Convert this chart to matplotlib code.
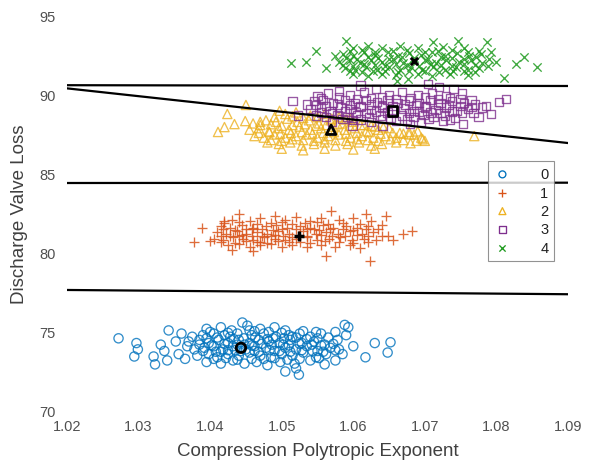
import matplotlib
matplotlib.use("Agg")
import matplotlib.pyplot as plt

plt.rcParams['font.family'] = ['Liberation Sans', 'DejaVu Sans']

# ---- data ----
x0 = [1.0272,1.0297,1.0299,1.0294,1.0321,1.0323,1.0331,1.0342,1.0340,1.0336,1.0352,1.0356,1.0360,1.0365,1.0368,
      1.0415,1.0445,1.0452,1.0470,1.0490,1.0505,1.0430,1.0395,
      1.0375,1.0390,1.0405,1.0420,1.0438,1.0458,1.0475,1.0492,1.0510,1.0525,1.0540,1.0555,1.0575,
      1.0370,1.0385,1.0398,1.0412,1.0425,1.0440,1.0455,1.0468,1.0482,1.0497,1.0512,1.0528,1.0545,1.0560,1.0578,1.0590,
      1.0378,1.0392,1.0405,1.0418,1.0432,1.0450,1.0462,1.0478,1.0490,1.0505,1.0520,1.0535,1.0550,1.0568,1.0580,
      1.0382,1.0398,1.0410,1.0425,1.0440,1.0455,1.0470,1.0485,1.0500,1.0515,1.0530,1.0548,1.0562,
      1.0395,1.0415,1.0432,1.0448,1.0465,1.0480,1.0498,1.0518,1.0540,1.0560,
      1.0505,1.0520,1.0524,1.0593,1.0588,1.0630,1.0652,1.0648,1.0617,1.0600,1.0585,1.0575,
      1.0428,1.0448,1.0462,1.0415,1.0488,1.0502,1.0475,1.0435,1.0515,1.0455,
      1.0395,1.0410,1.0433,1.0447,1.0463,1.0480,1.0503,1.0520,1.0535,1.0550,1.0565,
      1.0385,1.0402,1.0420,1.0438,1.0458,1.0472,1.0486,1.0510,1.0525,1.0542,1.0555,1.0572,
      1.0390,1.0408,1.0425,1.0443,1.0468,1.0483,1.0497,1.0512,1.0528,1.0543,1.0558,1.0575,
      1.0405,1.0422,1.0438,1.0458,1.0490,1.0508,1.0525,1.0552,
      1.0400,1.0425,1.0462,1.0482,1.0500,1.0530,1.0548]
y0 = [74.6,74.3,73.9,73.45,73.45,72.95,74.2,75.1,73.2,73.8,74.4,73.6,74.9,73.3,74.1,
      75.3,75.6,75.4,75.2,75.3,75.1,75.1,75.2,
      74.7,74.8,74.9,74.8,74.9,74.8,74.9,74.7,74.8,74.9,74.7,74.9,75.0,
      74.4,74.5,74.3,74.5,74.3,74.5,74.3,74.5,74.4,74.3,74.5,74.3,74.4,74.2,74.5,74.8,
      73.9,74.0,74.1,73.9,74.1,73.9,74.1,74.0,73.8,74.0,73.9,74.1,73.8,74.0,73.9,
      73.5,73.6,73.4,73.6,73.5,73.7,73.5,73.4,73.6,73.5,73.7,73.4,73.6,
      73.1,73.0,73.2,73.0,73.1,72.9,73.1,73.0,73.2,72.95,
      72.5,72.7,72.3,75.3,75.45,74.3,74.35,73.7,73.4,74.1,73.6,73.2,
      74.7,74.2,73.8,73.75,74.6,74.2,73.3,73.85,74.7,75.1,
      74.6,74.65,74.55,74.6,74.65,74.55,74.6,74.65,74.55,74.6,74.65,
      74.2,74.15,74.25,74.2,74.15,74.25,74.2,74.15,74.25,74.2,74.15,74.25,
      73.8,73.75,73.85,73.8,73.75,73.85,73.8,73.75,73.85,73.8,73.75,73.85,
      73.3,73.35,73.25,73.3,73.35,73.25,73.3,73.35,
      75.0,74.95,75.05,75.0,74.95,75.05,75.0]

x1 = [1.0377,1.0389,1.0400,1.0420,1.0441,1.0490,1.0569,1.0618,1.0646,1.0682,1.0670,1.0623,1.0562,1.0655,1.0640,1.0430,1.0460,
      1.0430,1.0455,1.0470,1.0505,1.0520,1.0540,1.0555,1.0580,1.0600,1.0625,
      1.0415,1.0428,1.0445,1.0460,1.0478,1.0492,1.0508,1.0525,1.0540,1.0558,1.0572,1.0590,1.0605,1.0620,1.0635,
      1.0410,1.0422,1.0438,1.0450,1.0465,1.0480,1.0495,1.0510,1.0530,1.0548,1.0562,1.0578,1.0595,1.0612,1.0628,1.0648,
      1.0405,1.0418,1.0432,1.0446,1.0460,1.0475,1.0490,1.0505,1.0520,1.0536,1.0550,1.0566,1.0582,1.0598,1.0615,1.0632,
      1.0425,1.0440,1.0455,1.0470,1.0485,1.0500,1.0515,1.0535,1.0555,1.0575,1.0595,1.0610,
      1.0450,1.0485,1.0515,1.0500,1.0470,1.0525,1.0545,1.0440,
      1.0420,1.0440,1.0465,1.0485,1.0500,1.0515,1.0532,1.0550,1.0565,1.0585,1.0610,
      1.0418,1.0435,1.0458,1.0472,1.0488,1.0520,1.0535,1.0552,1.0568,1.0585,1.0600,1.0618,
      1.0415,1.0428,1.0445,1.0458,1.0472,1.0490,1.0502,1.0535,1.0555,1.0570,1.0588,1.0605,1.0620,1.0640,
      1.0415,1.0435,1.0450,1.0465,1.0480,1.0495,1.0510,1.0540,1.0560,1.0580,1.0600,1.0620]
y1 = [80.7,81.6,80.75,82.0,82.45,82.35,82.65,82.45,82.35,81.4,81.2,79.5,79.8,80.8,81.8,80.2,80.1,
      82.1,82.0,82.2,82.1,82.3,82.0,82.2,82.1,82.2,82.0,
      81.7,81.6,81.8,81.6,81.7,81.8,81.6,81.7,81.6,81.8,81.6,81.7,81.6,81.7,81.5,
      81.3,81.2,81.4,81.2,81.3,81.2,81.4,81.2,81.4,81.2,81.3,81.2,81.4,81.2,81.3,81.1,
      80.9,80.8,81.0,80.9,80.8,81.0,80.9,80.8,80.9,81.0,80.8,80.9,81.0,80.8,80.9,80.85,
      80.5,80.6,80.4,80.5,80.6,80.4,80.5,80.4,80.5,80.4,80.5,80.3,
      81.5,81.1,81.0,81.5,80.7,80.7,81.5,81.1,
      81.9,81.95,81.85,81.9,81.95,81.85,81.9,81.95,81.85,81.9,81.85,
      81.5,81.45,81.55,81.5,81.45,81.55,81.5,81.45,81.55,81.5,81.45,81.5,
      81.1,81.05,81.15,81.1,81.05,81.15,81.1,81.05,81.15,81.1,81.05,81.15,81.1,81.05,
      80.7,80.65,80.75,80.7,80.65,80.75,80.7,80.65,80.75,80.7,80.65,80.7]

x2 = [1.0424,1.0450,1.0411,1.0449,1.0420,1.0434,1.0470,1.0497,1.0769,
      1.0505,1.0520,1.0540,1.0560,1.0580,1.0595,
      1.0460,1.0478,1.0492,1.0508,1.0522,1.0538,1.0552,1.0568,1.0585,1.0600,1.0615,1.0630,
      1.0455,1.0468,1.0482,1.0496,1.0510,1.0525,1.0540,1.0555,1.0572,1.0588,1.0602,1.0618,1.0635,1.0650,1.0665,
      1.0462,1.0475,1.0490,1.0505,1.0520,1.0535,1.0550,1.0565,1.0580,1.0596,1.0612,1.0628,1.0645,1.0660,1.0678,1.0695,
      1.0480,1.0496,1.0512,1.0528,1.0545,1.0560,1.0575,1.0592,1.0608,1.0625,1.0640,1.0660,1.0680,1.0700,
      1.0500,1.0530,1.0560,1.0600,1.0630,
      1.0678,1.0697,1.0690,
      1.0490,1.0515,1.0530,1.0550,1.0570,1.0590,
      1.0470,1.0485,1.0500,1.0515,1.0532,1.0548,1.0562,1.0578,1.0595,1.0610,1.0625,1.0642,
      1.0468,1.0483,1.0498,1.0513,1.0528,1.0543,1.0558,1.0573,1.0590,1.0605,1.0622,1.0638,1.0655,1.0670,1.0685,
      1.0485,1.0500,1.0515,1.0530,1.0545,1.0560,1.0575,1.0590,1.0605,1.0620,1.0635,1.0652,1.0670,1.0688]
y2 = [88.8,89.37,87.66,88.35,87.97,88.16,88.3,89.0,87.4,
      88.8,88.9,88.7,88.8,88.6,88.5,
      88.2,88.4,88.3,88.5,88.3,88.4,88.2,88.4,88.2,88.3,88.1,88.0,
      87.8,87.9,87.7,87.9,87.8,88.0,87.8,87.9,88.0,87.8,87.9,87.7,87.8,87.9,87.6,
      87.4,87.3,87.5,87.3,87.4,87.5,87.3,87.4,87.5,87.3,87.4,87.3,87.4,87.3,87.5,87.3,
      87.0,86.9,87.0,86.8,86.9,87.0,86.8,86.9,87.0,86.8,86.9,87.0,86.95,87.1,
      86.6,86.5,86.6,86.55,86.6,
      87.66,87.2,87.7,
      88.6,88.65,88.55,88.6,88.5,88.45,
      88.1,88.15,88.05,88.1,88.15,88.05,88.1,88.15,88.05,88.1,88.05,87.95,
      87.6,87.65,87.55,87.6,87.65,87.55,87.6,87.65,87.55,87.6,87.65,87.55,87.6,87.55,87.5,
      87.15,87.1,87.2,87.15,87.1,87.2,87.15,87.1,87.2,87.15,87.1,87.2,87.15,87.1]

x3 = [1.0515,1.0523,1.0535,1.0813,1.0804,1.0792,1.0775,1.0753,1.0580,1.0632,1.0704,1.0740,1.0599,1.0641,1.0679,1.0720,1.0610,
      1.0550,1.0565,1.0595,1.0615,1.0650,1.0668,1.0690,1.0710,1.0730,1.0752,
      1.0545,1.0558,1.0572,1.0588,1.0602,1.0618,1.0633,1.0648,1.0662,1.0678,1.0692,1.0708,1.0722,1.0738,1.0755,1.0770,1.0785,
      1.0540,1.0555,1.0568,1.0582,1.0596,1.0610,1.0625,1.0640,1.0670,1.0685,1.0700,1.0715,1.0730,1.0745,1.0760,
      1.0548,1.0562,1.0578,1.0592,1.0606,1.0622,1.0638,1.0652,1.0668,1.0684,1.0698,1.0712,1.0728,1.0742,
      1.0570,1.0600,1.0625,1.0660,1.0695,1.0725,
      1.0555,1.0580,1.0605,1.0625,1.0640,1.0660,1.0680,1.0700,1.0718,1.0735,1.0750,1.0765,
      1.0548,1.0562,1.0578,1.0595,1.0610,1.0625,1.0640,1.0655,1.0672,1.0688,1.0702,1.0718,1.0734,1.0750,1.0765,1.0780,
      1.0555,1.0570,1.0588,1.0603,1.0618,1.0632,1.0648,1.0678,1.0692,1.0708,1.0722,1.0738,1.0752,1.0768,
      1.0585,1.0610,1.0640,1.0675,1.0705,1.0735]
y3 = [89.6,88.7,89.4,89.75,89.55,88.8,88.6,88.15,90.25,90.4,90.7,90.4,88.05,88.05,88.15,90.5,90.6,
      89.95,90.1,90.0,90.15,90.0,90.2,90.0,90.1,89.95,90.1,
      89.6,89.7,89.5,89.7,89.5,89.7,89.55,89.7,89.5,89.65,89.5,89.7,89.5,89.6,89.5,89.4,89.3,
      89.1,89.2,89.0,89.2,89.1,89.25,89.05,89.2,89.15,89.0,89.2,89.05,89.2,89.0,89.1,
      88.7,88.6,88.75,88.6,88.75,88.6,88.7,88.55,88.7,88.6,88.75,88.6,88.7,88.55,
      88.3,88.4,88.3,88.35,88.3,88.35,
      89.8,89.85,89.75,89.8,89.85,89.75,89.8,89.85,89.75,89.8,89.75,89.7,
      89.35,89.3,89.4,89.35,89.3,89.4,89.35,89.3,89.4,89.35,89.3,89.4,89.35,89.3,89.25,89.2,
      88.9,88.85,88.95,88.9,88.85,88.95,88.9,88.85,88.95,88.9,88.85,88.95,88.9,88.85,
      88.5,88.45,88.5,88.45,88.5,88.45]

x4 = [1.0513,1.0534,1.0548,1.0856,1.0838,1.0827,1.0810,1.0787,1.0793,1.0590,1.0711,1.0746,1.0661,1.0676,1.0562,1.0575,
      1.0600,1.0620,1.0640,1.0665,1.0690,1.0725,1.0755,
      1.0585,1.0600,1.0615,1.0630,1.0648,1.0662,1.0678,1.0695,1.0710,1.0728,1.0745,1.0762,1.0778,
      1.0580,1.0595,1.0610,1.0625,1.0640,1.0655,1.0670,1.0700,1.0715,1.0730,1.0748,1.0765,1.0780,1.0800,
      1.0588,1.0602,1.0618,1.0633,1.0650,1.0665,1.0680,1.0696,1.0712,1.0728,1.0744,1.0760,1.0776,
      1.0600,1.0620,1.0640,1.0660,1.0690,1.0710,1.0735,1.0760,
      1.0595,1.0612,1.0630,1.0655,1.0675,1.0700,1.0718,1.0738,1.0760,1.0775,
      1.0590,1.0605,1.0620,1.0635,1.0650,1.0668,1.0685,1.0705,1.0722,1.0738,1.0755,1.0772,1.0790,
      1.0585,1.0600,1.0615,1.0630,1.0645,1.0660,1.0675,1.0692,1.0708,1.0722,1.0738,1.0755,1.0770,1.0788,
      1.0595,1.0612,1.0628,1.0645,1.0662,1.0678,1.0700,1.0720,1.0740,1.0755,1.0770]
y4 = [92.05,92.1,92.8,91.8,92.4,91.95,91.1,93.35,92.7,93.4,93.35,93.4,90.9,91.0,91.7,92.5,
      93.0,93.1,92.95,93.1,93.0,93.05,92.95,
      92.6,92.5,92.7,92.55,92.7,92.5,92.65,92.55,92.7,92.5,92.65,92.5,92.6,
      92.1,92.2,92.05,92.2,92.1,92.25,92.05,92.2,92.05,92.2,92.1,92.2,92.0,92.1,
      91.7,91.6,91.75,91.6,91.75,91.6,91.75,91.6,91.75,91.6,91.75,91.6,91.7,
      91.3,91.2,91.35,91.25,91.3,91.2,91.3,91.25,
      92.8,92.85,92.75,92.8,92.85,92.75,92.8,92.85,92.75,92.8,
      92.35,92.3,92.4,92.35,92.3,92.4,92.35,92.3,92.4,92.35,92.3,92.4,92.3,
      91.9,91.85,91.95,91.9,91.85,91.95,91.9,91.85,91.95,91.9,91.85,91.95,91.9,91.85,
      91.5,91.45,91.55,91.5,91.45,91.55,91.5,91.45,91.55,91.5,91.45]

cluster_labels = ['0', '1', '2', '3', '4']
centroid_x = [1.0443, 1.0524, 1.0569, 1.0655, 1.0685]
centroid_y = [74.0, 81.1, 87.8, 89.0, 92.15]

boundary_x = [1.02, 1.09]
boundary_1 = [90.62, 90.57]
boundary_2 = [90.42, 86.96]
boundary_3 = [84.43, 84.45]
boundary_4 = [77.66, 77.39]

x_ticks = [1.02, 1.03, 1.04, 1.05, 1.06, 1.07, 1.08, 1.09]
y_ticks = [70, 75, 80, 85, 90, 95]

# ---- styles ----
colors = ['#0072BD', '#D95319', '#EDB120', '#7E2F8E', '#1E9A1E']
markers = ['o', '+', '^', 's', 'x']
sizes = [44, 58, 44, 36, 36]

fig = plt.figure(figsize=(5.92, 4.64), dpi=100)
ax = fig.add_axes([67/592, 1 - 412/464, 501/592, 395/464])

xs = [x0, x1, x2, x3, x4]
ys = [y0, y1, y2, y3, y4]
handles = []
for i in range(5):
    if markers[i] in ('+', 'x'):
        h = ax.scatter(xs[i], ys[i], s=sizes[i], marker=markers[i], c=colors[i],
                       linewidths=0.95, alpha=0.85, label=cluster_labels[i], zorder=2)
    else:
        h = ax.scatter(xs[i], ys[i], s=sizes[i], marker=markers[i], facecolors='none',
                       edgecolors=colors[i], linewidths=0.95, alpha=0.8,
                       label=cluster_labels[i], zorder=2)
    handles.append(h)

for i in range(5):
    if markers[i] == 'x':
        ax.scatter([centroid_x[i]], [centroid_y[i]], s=28, marker='x', c='black',
                   linewidths=2.2, zorder=4)
    elif markers[i] == '+':
        ax.scatter([centroid_x[i]], [centroid_y[i]], s=55, marker='+', c='black',
                   linewidths=2.5, zorder=4)
    else:
        ax.scatter([centroid_x[i]], [centroid_y[i]], s=46, marker=markers[i],
                   facecolors='none', edgecolors='black', linewidths=2.0, zorder=4)

for by in (boundary_1, boundary_2, boundary_3, boundary_4):
    ax.plot(boundary_x, by, color='black', lw=1.6, zorder=3)

ax.set_xlim(1.02, 1.09)
ax.set_ylim(70, 95)
ax.set_xticks(x_ticks)
ax.set_xticklabels([f'{v:.2f}' for v in x_ticks])
ax.set_yticks(y_ticks)
ax.set_yticklabels([str(v) for v in y_ticks])
for s in ax.spines.values():
    s.set_visible(False)
ax.tick_params(axis='both', length=0, labelsize=10.5, colors='#505050')
ax.tick_params(axis='x', pad=6)
ax.tick_params(axis='y', pad=8)
ax.set_xlabel('Compression Polytropic Exponent', fontsize=13.5, color='#404040', labelpad=6)
ax.set_ylabel('Discharge Valve Loss', fontsize=13.5, color='#404040', labelpad=8)

leg = ax.legend(handles=handles, loc='upper left', bbox_to_anchor=(0.84, 0.632),
                frameon=True, fancybox=False, edgecolor='#777777', fontsize=10.5,
                handlelength=1.2, handletextpad=2.0, borderpad=0.4, labelspacing=0.3,
                borderaxespad=0, markerscale=0.75)
leg.get_frame().set_linewidth(0.8)
for t in leg.get_texts():
    t.set_color('#222222')
for lh in leg.legend_handles:
    lh.set_alpha(1)

fig.savefig('out.png', dpi=100)
